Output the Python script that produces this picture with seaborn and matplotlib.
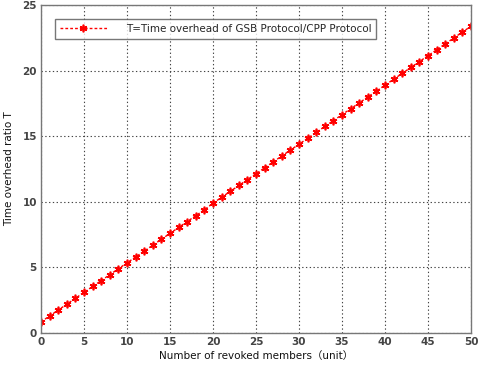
import matplotlib
matplotlib.use("Agg")
import matplotlib.pyplot as plt
import pandas as pd
import seaborn as sns

# revoked members (x) and time overhead ratio T (y)
members = list(range(0, 51))
ratio = [
    0.85, 1.30, 1.75, 2.20, 2.65, 3.10, 3.55, 4.00, 4.45, 4.90,
    5.35, 5.80, 6.25, 6.70, 7.15, 7.60, 8.05, 8.50, 8.95, 9.40,
    9.90, 10.35, 10.80, 11.25, 11.70, 12.15, 12.60, 13.05, 13.50, 13.95,
    14.40, 14.85, 15.30, 15.75, 16.20, 16.65, 17.10, 17.55, 18.00, 18.45,
    18.90, 19.35, 19.80, 20.25, 20.70, 21.15, 21.60, 22.05, 22.50, 22.95,
    23.40,
]
x_ticks = [0, 5, 10, 15, 20, 25, 30, 35, 40, 45, 50]
y_ticks = [0, 5, 10, 15, 20, 25]
series_label = "T=Time overhead of GSB Protocol/CPP Protocol"

df = pd.DataFrame({"members": members, "ratio": ratio})

sns.set_style("white")
plt.rcParams["font.family"] = ["DejaVu Sans", "Noto Sans CJK SC"]

fig = plt.figure(figsize=(4.8, 3.68), dpi=100)
ax = fig.add_axes([0.0854, 0.095, 0.896, 0.891])

# MATLAB-style asterisk marker
sns.lineplot(data=df, x="members", y="ratio", ax=ax, color="red",
             linestyle=(0, (2, 1.5)), linewidth=1.0, marker=(6, 2, 0),
             markersize=5.5, markeredgewidth=1.2, markeredgecolor="red",
             markerfacecolor="red", label=series_label)

ax.set_xlim(0, 50)
ax.set_ylim(0, 25)
ax.set_xticks(x_ticks)
ax.set_yticks(y_ticks)
ax.grid(True, color="#444444", linestyle=(0, (1.2, 2.2)), linewidth=0.8)
for s in ax.spines.values():
    s.set_color("#777777")
    s.set_linewidth(1.0)
ax.tick_params(axis="both", labelsize=7.5, colors="#333333", length=3,
               direction="in", pad=3)
for lab in ax.get_xticklabels() + ax.get_yticklabels():
    lab.set_fontweight("bold")
    lab.set_color("#444444")

ax.set_xlabel("Number of revoked members（unit）", fontsize=7.5, labelpad=3,
              color="#111111")
ax.set_ylabel("Time overhead ratio T", fontsize=7.5, labelpad=6,
              color="#111111")

leg = ax.legend(loc="upper left", bbox_to_anchor=(0.02, 0.975), fontsize=7.5,
                frameon=True, fancybox=False, edgecolor="#555555",
                handlelength=4.5, borderpad=0.5, handletextpad=1.8)
leg.get_frame().set_linewidth(1.0)

fig.savefig("out.png", dpi=100)
plt.close(fig)
